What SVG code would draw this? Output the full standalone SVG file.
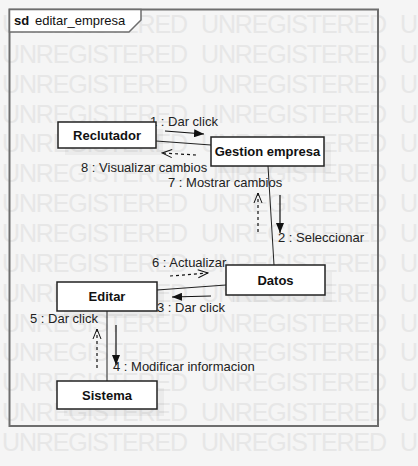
<svg xmlns="http://www.w3.org/2000/svg" width="418" height="466" viewBox="0 0 418 466">
<defs>
<marker id="filled" viewBox="0 0 10 8" refX="10" refY="4" markerWidth="10" markerHeight="8" markerUnits="userSpaceOnUse" orient="auto"><path d="M0,0 L10,4 L0,8 Z" fill="#111"/></marker>
<marker id="open" viewBox="0 0 12 10" refX="11" refY="5" markerWidth="12" markerHeight="10" markerUnits="userSpaceOnUse" orient="auto"><path d="M1,1 L11,5 L1,9" fill="none" stroke="#111" stroke-width="1"/></marker>
</defs>
<style>
.wm{font-family:"Liberation Sans",Arial,sans-serif;font-size:25px;fill:#e7e7e7}
.node rect.box{fill:#fff;stroke:#222;stroke-width:1.5}
.node rect.sh{fill:#000;fill-opacity:0.04}
.node text{font-family:"Liberation Sans",Arial,sans-serif;font-size:13px;font-weight:bold;fill:#111;text-anchor:middle}
.lbl{font-family:"Liberation Sans",Arial,sans-serif;font-size:13px;fill:#222}
.link{stroke:#222;stroke-width:1;fill:none}
.sync{stroke:#111;stroke-width:1.2;fill:none;marker-end:url(#filled)}
.ret{stroke:#111;stroke-width:1.2;fill:none;stroke-dasharray:3,3;marker-end:url(#open)}
</style>
<rect x="0" y="0" width="418" height="466" fill="#f5f5f5"/>
<g id="watermark">
<text class="wm" x="2" y="33"><tspan textLength="186">UNREGISTERED</tspan><tspan x="201" textLength="186">UNREGISTERED</tspan><tspan x="400">U</tspan></text>
<text class="wm" x="2" y="62.9"><tspan textLength="186">UNREGISTERED</tspan><tspan x="201" textLength="186">UNREGISTERED</tspan><tspan x="400">U</tspan></text>
<text class="wm" x="2" y="92.7"><tspan textLength="186">UNREGISTERED</tspan><tspan x="201" textLength="186">UNREGISTERED</tspan><tspan x="400">U</tspan></text>
<text class="wm" x="2" y="122.6"><tspan textLength="186">UNREGISTERED</tspan><tspan x="201" textLength="186">UNREGISTERED</tspan><tspan x="400">U</tspan></text>
<text class="wm" x="2" y="152.4"><tspan textLength="186">UNREGISTERED</tspan><tspan x="201" textLength="186">UNREGISTERED</tspan><tspan x="400">U</tspan></text>
<text class="wm" x="2" y="182.3"><tspan textLength="186">UNREGISTERED</tspan><tspan x="201" textLength="186">UNREGISTERED</tspan><tspan x="400">U</tspan></text>
<text class="wm" x="2" y="212.1"><tspan textLength="186">UNREGISTERED</tspan><tspan x="201" textLength="186">UNREGISTERED</tspan><tspan x="400">U</tspan></text>
<text class="wm" x="2" y="242"><tspan textLength="186">UNREGISTERED</tspan><tspan x="201" textLength="186">UNREGISTERED</tspan><tspan x="400">U</tspan></text>
<text class="wm" x="2" y="271.9"><tspan textLength="186">UNREGISTERED</tspan><tspan x="201" textLength="186">UNREGISTERED</tspan><tspan x="400">U</tspan></text>
<text class="wm" x="2" y="301.7"><tspan textLength="186">UNREGISTERED</tspan><tspan x="201" textLength="186">UNREGISTERED</tspan><tspan x="400">U</tspan></text>
<text class="wm" x="2" y="331.6"><tspan textLength="186">UNREGISTERED</tspan><tspan x="201" textLength="186">UNREGISTERED</tspan><tspan x="400">U</tspan></text>
<text class="wm" x="2" y="361.4"><tspan textLength="186">UNREGISTERED</tspan><tspan x="201" textLength="186">UNREGISTERED</tspan><tspan x="400">U</tspan></text>
<text class="wm" x="2" y="391.3"><tspan textLength="186">UNREGISTERED</tspan><tspan x="201" textLength="186">UNREGISTERED</tspan><tspan x="400">U</tspan></text>
<text class="wm" x="2" y="421.1"><tspan textLength="186">UNREGISTERED</tspan><tspan x="201" textLength="186">UNREGISTERED</tspan><tspan x="400">U</tspan></text>
<text class="wm" x="2" y="451"><tspan textLength="186">UNREGISTERED</tspan><tspan x="201" textLength="186">UNREGISTERED</tspan><tspan x="400">U</tspan></text>
</g>
<g id="frame">
<rect x="9.5" y="9.5" width="368.5" height="416.5" fill="none" stroke="#6e6e6e" stroke-width="2"/>
<path d="M9.5,9.5 H141 V20 L129,32 H9.5 Z" fill="#fff" stroke="#6e6e6e" stroke-width="1.5"/>
<text x="14" y="25" font-family="Liberation Sans, Arial, sans-serif" font-size="13" fill="#111"><tspan font-weight="bold">sd</tspan><tspan x="35">editar_empresa</tspan></text>
</g>
<g id="connectors">
<line class="link" x1="156" y1="141" x2="211" y2="145"/>
<line class="link" x1="268" y1="166" x2="274" y2="265"/>
<line class="link" x1="226" y1="285" x2="157" y2="290"/>
<line class="link" x1="107" y1="311" x2="107" y2="381"/>
<line class="sync" x1="165" y1="131" x2="204" y2="134"/>
<line class="ret" x1="196" y1="155" x2="162" y2="153"/>
<line class="ret" x1="258" y1="232" x2="258" y2="193"/>
<line class="sync" x1="280" y1="195" x2="280" y2="233"/>
<line class="ret" x1="170" y1="276" x2="208" y2="273"/>
<line class="sync" x1="211" y1="296" x2="172" y2="297"/>
<line class="ret" x1="97" y1="368" x2="97" y2="329"/>
<line class="sync" x1="116" y1="325" x2="116" y2="365"/>
<text class="lbl" x="150" y="126">1 : Dar click</text>
<text class="lbl" x="81" y="172">8 : Visualizar cambios</text>
<text class="lbl" x="168" y="187">7 : Mostrar cambios</text>
<text class="lbl" x="278" y="242">2 : Seleccionar</text>
<text class="lbl" x="152" y="267">6 : Actualizar</text>
<text class="lbl" x="157" y="312">3 : Dar click</text>
<text class="lbl" x="30" y="323">5 : Dar click</text>
<text class="lbl" x="113" y="371">4 : Modificar informacion</text>
</g>
<g id="reclutador" class="node"><rect class="sh" x="65" y="129" width="98" height="26"/><rect class="box" x="58" y="122" width="98" height="26"/><text x="107" y="140">Reclutador</text></g>
<g id="gestion" class="node"><rect class="sh" x="218" y="144" width="113" height="29"/><rect class="box" x="211" y="137" width="113" height="29"/><text x="267.5" y="156">Gestion empresa</text></g>
<g id="datos" class="node"><rect class="sh" x="233" y="272" width="99" height="30"/><rect class="box" x="226" y="265" width="99" height="30"/><text x="275.5" y="285">Datos</text></g>
<g id="editar" class="node"><rect class="sh" x="64" y="289" width="100" height="29"/><rect class="box" x="57" y="282" width="100" height="29"/><text x="107" y="301">Editar</text></g>
<g id="sistema" class="node"><rect class="sh" x="64" y="388" width="100" height="28"/><rect class="box" x="57" y="381" width="100" height="28"/><text x="107" y="400">Sistema</text></g>
</svg>
